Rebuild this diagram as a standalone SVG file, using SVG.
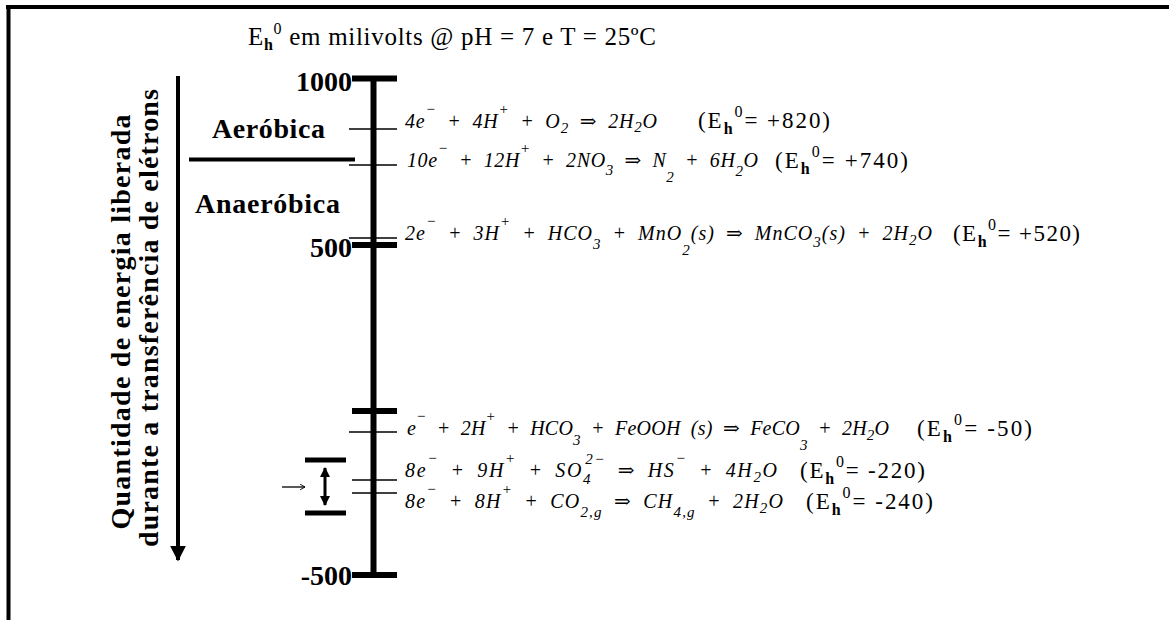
<svg xmlns="http://www.w3.org/2000/svg" width="1169" height="620" viewBox="0 0 1169 620">
<style>
.eq{font-family:"Liberation Serif","DejaVu Serif",serif;font-style:italic;font-size:20px;word-spacing:5px;fill:#000}
.ep{font-family:"Liberation Serif","DejaVu Serif",serif;font-size:23px;fill:#000}
.s{font-size:15px}
.hb{font-size:16px;font-weight:bold;font-style:normal}
.z{font-size:16px;font-style:normal}
.lb{font-family:"Liberation Serif","DejaVu Serif",serif;font-weight:bold;fill:#000}
.thin{stroke:#000;stroke-width:1.5}
.thick{stroke:#000;stroke-width:6}
</style>
<defs>
<marker id="ah" viewBox="0 0 10 10" refX="9" refY="5" markerWidth="4" markerHeight="4" orient="auto"><path d="M0,0 L10,5 L0,10 z" fill="#000"/></marker>
<marker id="ah2" viewBox="0 0 10 10" refX="9" refY="5" markerWidth="3.5" markerHeight="3.5" orient="auto-start-reverse"><path d="M0,0 L10,5 L0,10 z" fill="#000"/></marker>
<marker id="chev" viewBox="0 0 10 10" refX="9" refY="5" markerWidth="7" markerHeight="7" orient="auto" markerUnits="userSpaceOnUse"><path d="M2,1 L9,5 L2,9" fill="none" stroke="#000" stroke-width="1.3"/></marker>
</defs>
<rect width="1169" height="620" fill="#fff"/>
<g id="border">
<line x1="6" y1="7" x2="1169" y2="7" stroke="#000" stroke-width="4"/>
<line x1="8.5" y1="5" x2="8.5" y2="620" stroke="#000" stroke-width="4"/>
</g>
<g id="title">
<text class="ep" x="248" y="45" style="font-size:25px" textLength="408" lengthAdjust="spacing">E<tspan class="hb" dy="5">h</tspan><tspan class="z" dy="-16">0</tspan><tspan dy="11"> em milivolts @ pH = 7 e T = 25ºC</tspan></text>
</g>
<g id="axis">
<line x1="373.5" y1="76" x2="373.5" y2="578" stroke="#000" stroke-width="6"/>
<line class="thick" x1="352" y1="78.5" x2="397" y2="78.5"/>
<line class="thick" x1="352" y1="245" x2="397" y2="245"/>
<line class="thick" x1="352" y1="411" x2="397" y2="411"/>
<line class="thick" x1="352" y1="575" x2="397" y2="575"/>
<line class="thin" x1="349" y1="129" x2="397" y2="129"/>
<line class="thin" x1="349" y1="165" x2="397" y2="165"/>
<line class="thin" x1="349" y1="238" x2="397" y2="238"/>
<line class="thin" x1="349" y1="432" x2="397" y2="432"/>
<line class="thin" x1="352" y1="480" x2="397" y2="480"/>
<line class="thin" x1="352" y1="493" x2="397" y2="493"/>
<text class="lb" x="352" y="91" text-anchor="end" style="font-size:28px">1000</text>
<text class="lb" x="352" y="257" text-anchor="end" style="font-size:28px">500</text>
<text class="lb" x="352" y="585" text-anchor="end" style="font-size:28px">-500</text>
</g>
<g id="zones">
<line x1="189" y1="159.5" x2="355" y2="159.5" stroke="#000" stroke-width="4"/>
<text class="lb" x="212" y="138" style="font-size:28px" textLength="113">Aeróbica</text>
<text class="lb" x="195" y="213" style="font-size:28px" textLength="145">Anaeróbica</text>
</g>
<g id="side-label">
<text class="lb" transform="translate(130,322) rotate(-90)" text-anchor="middle" style="font-size:28px" textLength="415" lengthAdjust="spacing">Quantidade de energia liberada</text>
<text class="lb" transform="translate(158,318) rotate(-90)" text-anchor="middle" style="font-size:28px" textLength="458" lengthAdjust="spacing">durante a transferência de elétrons</text>
</g>
<g id="connectors">
<line x1="178" y1="76" x2="178" y2="560" stroke="#000" stroke-width="4" marker-end="url(#ah)"/>
<line x1="305" y1="460" x2="346" y2="460" stroke="#000" stroke-width="5"/>
<line x1="305" y1="513" x2="346" y2="513" stroke="#000" stroke-width="5"/>
<line x1="325" y1="468" x2="325" y2="505" stroke="#000" stroke-width="3" marker-start="url(#ah2)" marker-end="url(#ah2)"/>
<line x1="282" y1="487" x2="305" y2="487" stroke="#000" stroke-width="1.3" marker-end="url(#chev)"/>
</g>
<g id="eq-o2">
<text class="eq" x="405" y="128" textLength="252" lengthAdjust="spacing">4e<tspan class="s" dy="-14">−</tspan><tspan dy="14"> + 4H</tspan><tspan class="s" dy="-14">+</tspan><tspan dy="14"> + O</tspan><tspan class="s" dy="5">2</tspan><tspan dy="-5"> ⇒ 2H</tspan><tspan class="s" dy="4">2</tspan><tspan dy="-4">O</tspan></text>
<text class="ep" x="698" y="128" textLength="132" lengthAdjust="spacing">(E<tspan class="hb" dy="6">h</tspan><tspan class="z" dy="-17">0</tspan><tspan dy="11">= +820)</tspan></text>
</g>
<g id="eq-no3">
<text class="eq" x="407" y="167" textLength="351" lengthAdjust="spacing">10e<tspan class="s" dy="-14">−</tspan><tspan dy="14"> + 12H</tspan><tspan class="s" dy="-14">+</tspan><tspan dy="14"> + 2NO</tspan><tspan class="s" dy="8">3</tspan><tspan dy="-8"> ⇒ N</tspan><tspan class="s" dy="15">2</tspan><tspan dy="-15"> + 6H</tspan><tspan class="s" dy="9">2</tspan><tspan dy="-9">O</tspan></text>
<text class="ep" x="775" y="168" textLength="133" lengthAdjust="spacing">(E<tspan class="hb" dy="6">h</tspan><tspan class="z" dy="-17">0</tspan><tspan dy="11">= +740)</tspan></text>
</g>
<g id="eq-mno2">
<text class="eq" x="405" y="240" textLength="527" lengthAdjust="spacing">2e<tspan class="s" dy="-14">−</tspan><tspan dy="14"> + 3H</tspan><tspan class="s" dy="-14">+</tspan><tspan dy="14"> + HCO</tspan><tspan class="s" dy="9">3</tspan><tspan dy="-9"> + MnO</tspan><tspan class="s" dy="15">2</tspan><tspan dy="-15">(s) ⇒ MnCO</tspan><tspan class="s" dy="7">3</tspan><tspan dy="-7">(s) + 2H</tspan><tspan class="s" dy="5">2</tspan><tspan dy="-5">O</tspan></text>
<text class="ep" x="953" y="241" textLength="127" lengthAdjust="spacing">(E<tspan class="hb" dy="6">h</tspan><tspan class="z" dy="-17">0</tspan><tspan dy="11">= +520)</tspan></text>
</g>
<g id="eq-feooh">
<text class="eq" x="407" y="435" textLength="482" lengthAdjust="spacing">e<tspan class="s" dy="-14">−</tspan><tspan dy="14"> + 2H</tspan><tspan class="s" dy="-14">+</tspan><tspan dy="14"> + HCO</tspan><tspan class="s" dy="10">3</tspan><tspan dy="-10"> + FeOOH (s) ⇒ FeCO</tspan><tspan class="s" dy="15">3</tspan><tspan dy="-15"> + 2H</tspan><tspan class="s" dy="5">2</tspan><tspan dy="-5">O</tspan></text>
<text class="ep" x="917" y="436" textLength="115" lengthAdjust="spacing">(E<tspan class="hb" dy="6">h</tspan><tspan class="z" dy="-17">0</tspan><tspan dy="11">= -50)</tspan></text>
</g>
<g id="eq-so4">
<text class="eq" x="405" y="477" textLength="372" lengthAdjust="spacing">8e<tspan class="s" dy="-14">−</tspan><tspan dy="14"> + 9H</tspan><tspan class="s" dy="-14">+</tspan><tspan dy="14"> + SO</tspan><tspan class="s" dy="7">4</tspan><tspan class="s" dx="-7" dy="-20">2−</tspan><tspan dy="13"> ⇒ HS</tspan><tspan class="s" dy="-14">−</tspan><tspan dy="14"> + 4H</tspan><tspan class="s" dy="5">2</tspan><tspan dy="-5">O</tspan></text>
<text class="ep" x="800" y="478" textLength="125" lengthAdjust="spacing">(E<tspan class="hb" dy="6">h</tspan><tspan class="z" dy="-17">0</tspan><tspan dy="11">= -220)</tspan></text>
</g>
<g id="eq-co2">
<text class="eq" x="405" y="508" textLength="378" lengthAdjust="spacing">8e<tspan class="s" dy="-14">−</tspan><tspan dy="14"> + 8H</tspan><tspan class="s" dy="-14">+</tspan><tspan dy="14"> + CO</tspan><tspan class="s" dy="9">2,g</tspan><tspan dy="-9"> ⇒ CH</tspan><tspan class="s" dy="9">4,g</tspan><tspan dy="-9"> + 2H</tspan><tspan class="s" dy="5">2</tspan><tspan dy="-5">O</tspan></text>
<text class="ep" x="806" y="509" textLength="127" lengthAdjust="spacing">(E<tspan class="hb" dy="6">h</tspan><tspan class="z" dy="-17">0</tspan><tspan dy="11">= -240)</tspan></text>
</g>
</svg>
